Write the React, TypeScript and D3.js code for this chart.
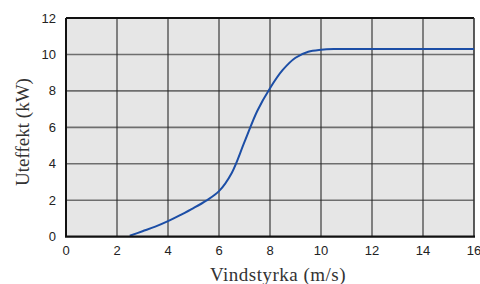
import React from "react";
import * as d3 from "d3";

const windSpeed = [2.5, 3, 3.5, 4, 4.5, 5, 5.5, 6, 6.5, 7, 7.5, 8, 8.5, 9, 9.5, 10, 10.5, 11, 12, 13, 14, 15, 16];
const powerKW = [0.05, 0.3, 0.55, 0.85, 1.2, 1.57, 1.98, 2.5, 3.5, 5.2, 6.9, 8.15, 9.15, 9.82, 10.15, 10.26, 10.3, 10.3, 10.3, 10.3, 10.3, 10.3, 10.3];
const xTicks = [0, 2, 4, 6, 8, 10, 12, 14, 16];
const yTicks = [0, 2, 4, 6, 8, 10, 12];
const xTitle = "Vindstyrka (m/s)";
const yTitle = "Uteffekt (kW)";

export default function App() {
  const W = 480, H = 284;
  const left = 66, right = 474, top = 18, bottom = 236.7;
  const x = d3.scaleLinear().domain([0, 16]).range([left, right]);
  const y = d3.scaleLinear().domain([0, 12]).range([bottom, top]);
  const pts = windSpeed.map((v, i) => [v, powerKW[i]] as [number, number]);
  const line = d3.line<[number, number]>().x(d => x(d[0])).y(d => y(d[1])).curve(d3.curveCatmullRom.alpha(0.5));
  return (
    <svg width={W} height={H} style={{ position: "absolute", left: 0, top: 0 }}>
      <rect x={left} y={top} width={right - left} height={bottom - top} fill="#e6e6e6" />
      {yTicks.filter(t => t > 0 && t < 12).map(t => (
        <line key={"h" + t} x1={left} x2={right} y1={y(t)} y2={y(t)} stroke="#6e6e6e" strokeWidth={1.6} />
      ))}
      {xTicks.filter(t => t > 0 && t < 16).map(t => (
        <line key={"v" + t} x1={x(t)} x2={x(t)} y1={top} y2={bottom} stroke="#2a2a2a" strokeWidth={1.1} />
      ))}
      <line x1={left} x2={right} y1={top} y2={top} stroke="#111" strokeWidth={2} />
      <line x1={left} x2={left} y1={top} y2={bottom} stroke="#111" strokeWidth={2} />
      <line x1={right} x2={right} y1={top} y2={bottom} stroke="#333" strokeWidth={1.6} />
      <path d={line(pts) || ""} fill="none" stroke="#1c4ea6" strokeWidth={2} />
      <line x1={left - 1} x2={right + 1} y1={bottom} y2={bottom} stroke="#111" strokeWidth={2.2} />
      {xTicks.map(t => (
        <text key={"xt" + t} x={x(t)} y={255} textAnchor="middle" fontFamily="Liberation Sans, Arial, sans-serif" fontSize={13} fill="#222">{t}</text>
      ))}
      {yTicks.map(t => (
        <text key={"yt" + t} x={56} y={y(t) + 4.5} textAnchor="end" fontFamily="Liberation Sans, Arial, sans-serif" fontSize={13} fill="#222">{t}</text>
      ))}
      <text x={278} y={281} textAnchor="middle" fontFamily="Liberation Serif, Times New Roman, serif" fontSize={19} letterSpacing={0.5} fill="#333">{xTitle}</text>
      <text transform={`translate(28.5, 132) rotate(-90)`} textAnchor="middle" fontFamily="Liberation Serif, Times New Roman, serif" fontSize={19} fill="#333">{yTitle}</text>
    </svg>
  );
}
